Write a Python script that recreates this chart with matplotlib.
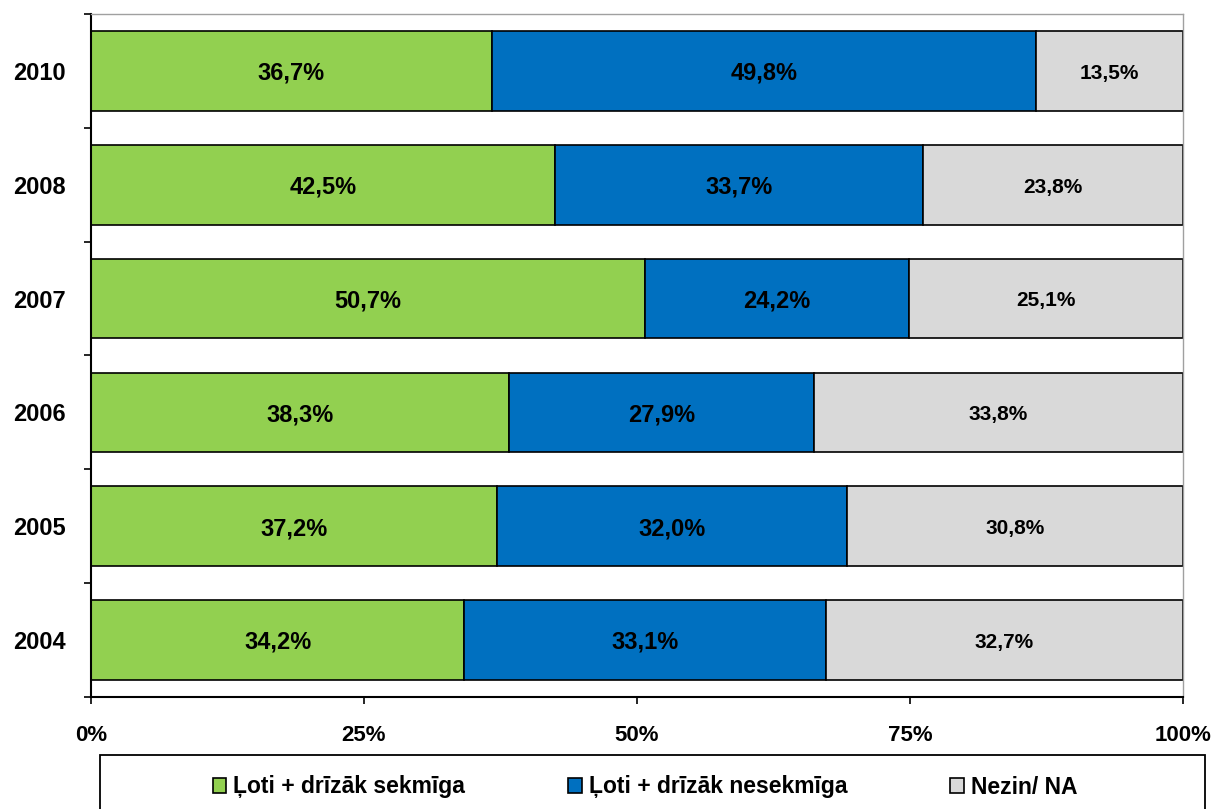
import matplotlib
matplotlib.use("Agg")
import matplotlib.pyplot as plt
from matplotlib.patches import Rectangle
import numpy as np

plt.rcParams["font.family"] = ["Liberation Sans", "DejaVu Sans"]
plt.rcParams["font.weight"] = "bold"

years = ["2004", "2005", "2006", "2007", "2008", "2010"]
series_names = ["Ļoti + drīzāk sekmīga", "Ļoti + drīzāk nesekmīga", "Nezin/ NA"]
success = [34.2, 37.2, 38.3, 50.7, 42.5, 36.7]
failure = [33.1, 32.0, 27.9, 24.2, 33.7, 49.8]
unknown = [32.7, 30.8, 33.8, 25.1, 23.8, 13.5]
colors = ["#92D050", "#0070C0", "#D9D9D9"]
label_sizes = [17, 17, 15]

W, H = 1211, 809
fig = plt.figure(figsize=(W / 100, H / 100), dpi=100)
ax = fig.add_axes([91 / W, 1 - 697 / H, (1183 - 91) / W, (697 - 14) / H])

y = np.arange(len(years))
left = np.zeros(len(years))
for name, vals, col, fs in zip(series_names, [success, failure, unknown], colors, label_sizes):
    vals = np.array(vals)
    ax.barh(y, vals, left=left, height=0.7, color=col, edgecolor="black",
            linewidth=1.2, label=name)
    for yi, l, v in zip(y, left, vals):
        ax.text(l + v / 2, yi - 0.02, f"{v:.1f}%".replace(".", ","), ha="center", va="center",
                fontsize=fs, fontweight="bold", color="black")
    left += vals

ax.set_xlim(0, 100)
ax.set_ylim(-0.5, len(years) - 0.5)
ax.set_xticks([0, 25, 50, 75, 100])
ax.set_xticklabels(["0%", "25%", "50%", "75%", "100%"], fontsize=16, fontweight="bold")
ax.set_yticks(y)
ax.set_yticklabels(years, fontsize=17, fontweight="bold")
ax.set_yticks(np.arange(-0.5, len(years)), minor=True)
ax.tick_params(axis="y", which="major", length=0, pad=18)
ax.tick_params(axis="y", which="minor", length=5, width=1.2, direction="out")
ax.tick_params(axis="x", length=5, width=1.2, direction="out", pad=15)

for side in ["left", "bottom"]:
    ax.spines[side].set_linewidth(1.5)
    ax.spines[side].set_color("black")
for side in ["top", "right"]:
    ax.spines[side].set_linewidth(1.0)
    ax.spines[side].set_color("#A0A0A0")

# legend box drawn separately so the entries stay close together
fig.patches.append(Rectangle((100 / W, 1 - 815 / H), 1105 / W, 60 / H,
                             transform=fig.transFigure, fill=False,
                             edgecolor="black", linewidth=1.3))
leg = fig.legend(loc="center", ncol=3, bbox_to_anchor=(645 / W, 1 - 787 / H),
                 frameon=False, fontsize=16.5, handlelength=0.6, handleheight=0.6,
                 handletextpad=0.3, columnspacing=4.5)
for t in leg.get_texts():
    t.set_fontweight("bold")

fig.savefig("out.png", dpi=100)
